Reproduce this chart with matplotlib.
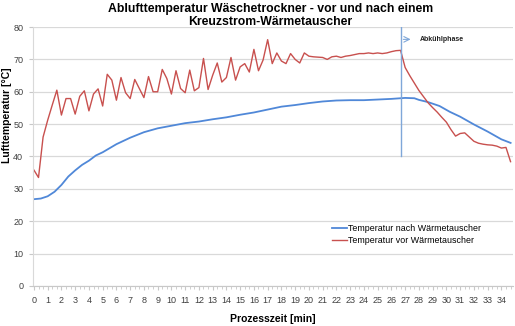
import numpy as np
import matplotlib
matplotlib.use("Agg")
import matplotlib.pyplot as plt
from matplotlib.ticker import MultipleLocator

plt.rcParams["font.family"] = ["Liberation Sans", "DejaVu Sans"]

# Temperatur vor Wärmetauscher (red), one value every 20 s
t_vor = np.arange(105) / 3.0
temp_vor = [
    35.8, 33.5, 46.0, 51.2, 55.9, 60.5, 52.8, 57.9, 57.9, 53.1,
    58.6, 60.3, 54.1, 59.3, 60.9, 55.6, 65.4, 63.6, 57.4, 64.4,
    59.7, 57.9, 63.8, 61.0, 58.2, 64.7, 60.0, 60.0, 66.9, 64.1,
    59.3, 66.5, 61.0, 59.7, 66.7, 60.3, 61.3, 70.3, 60.7, 65.1,
    68.9, 63.0, 64.4, 70.6, 63.6, 67.7, 68.7, 66.1, 73.1, 66.5,
    69.8, 76.1, 68.7, 72.0, 69.5, 68.7, 71.8, 70.0, 68.9, 72.0,
    71.0, 70.8, 70.7, 70.6, 70.0, 70.8, 71.0, 70.6, 71.0, 71.2,
    71.5, 71.8, 71.8, 72.0, 71.8, 72.0, 71.8, 72.0, 72.4, 72.7,
    72.8, 67.5, 65.0, 62.7, 60.4, 58.5, 56.6, 55.1, 53.7, 52.1,
    50.6, 48.3, 46.3, 47.1, 47.3, 46.0, 44.7, 44.1, 43.8, 43.6,
    43.5, 43.2, 42.6, 42.8, 38.4,
]

# Temperatur nach Wärmetauscher (blue)
t_nach = [
    0, 0.5, 1, 1.5, 2, 2.5, 3, 3.5, 4, 4.5, 5, 6, 7, 8, 9, 10, 11, 12,
    13, 14, 15, 16, 17, 18, 19, 20, 21, 22, 23, 24, 25, 26, 27, 27.67,
    28, 28.67, 29.5, 30.25, 31, 32, 33, 34, 34.67,
]
temp_nach = [
    26.8, 27.0, 27.7, 29.1, 31.2, 33.8, 35.7, 37.4, 38.7, 40.3, 41.3,
    43.8, 45.8, 47.5, 48.7, 49.5, 50.3, 50.8, 51.5, 52.1, 52.9, 53.6,
    54.5, 55.4, 55.9, 56.5, 57.0, 57.3, 57.4, 57.4, 57.6, 57.8, 58.1,
    58.0, 57.5, 56.8, 55.6, 53.8, 52.3, 49.9, 47.7, 45.3, 44.2,
]

t_abkuehl = 26.67
grey = "#404040"

fig = plt.figure(figsize=(5.15, 3.26), dpi=100)
ax = fig.add_axes([0.064, 0.123, 0.932, 0.794])

ax.plot(t_nach, temp_nach, color="#5088d8", lw=1.3,
        label="Temperatur nach Wärmetauscher")
ax.plot(t_vor, temp_vor, color="#c8504e", lw=1.0,
        label="Temperatur vor Wärmetauscher")

# start of cooling phase
ax.plot([t_abkuehl, t_abkuehl], [40, 80], color="#7fa7d9", lw=1.0)
ax.annotate("", xy=(27.6, 76.2), xytext=(t_abkuehl, 76.2),
            arrowprops=dict(arrowstyle="->", color="#7fa7d9", lw=0.8))
ax.text(28.05, 76.2, "Abkühlphase", fontsize=5, fontweight="bold",
        color="#222222", va="center")

ax.set_xlim(-0.07, 34.84)
ax.set_ylim(0, 80)
ax.xaxis.set_major_locator(MultipleLocator(1))
ax.xaxis.set_minor_locator(MultipleLocator(1 / 3))
ax.yaxis.set_major_locator(MultipleLocator(10))
ax.grid(axis="y", color="#d9d9d9", lw=0.9)
ax.set_axisbelow(True)

for side in ["top", "right"]:
    ax.spines[side].set_visible(False)
ax.spines["left"].set_color("#d9d9d9")
ax.spines["bottom"].set_color("#c8c8c8")
ax.tick_params(axis="x", which="major", labelsize=6.5, labelcolor=grey,
               color="#c8c8c8", length=3, pad=4)
ax.tick_params(axis="x", which="minor", color="#c8c8c8", length=2)
ax.tick_params(axis="y", labelsize=6.5, labelcolor=grey,
               color="#c8c8c8", length=3, pad=4)

ax.set_xlabel("Prozesszeit [min]", fontsize=7.5, fontweight="bold")
ax.set_ylabel("Lufttemperatur [°C]", fontsize=7.5, fontweight="bold")
ax.yaxis.set_label_coords(-0.043, 0.66)
ax.xaxis.set_label_coords(0.5, -0.11)

fig.text(0.525, 0.99, "Ablufttemperatur Wäschetrockner - vor und nach einem\n"
         "Kreuzstrom-Wärmetauscher", ha="center", va="top",
         fontsize=8.8, fontweight="bold", linespacing=1.1)

ax.legend(loc="upper left", bbox_to_anchor=(0.615, 0.252), frameon=False,
          fontsize=6.4, handlelength=1.7, handletextpad=0.15,
          labelspacing=0.35, borderaxespad=0)

fig.savefig("out.png", dpi=100)
